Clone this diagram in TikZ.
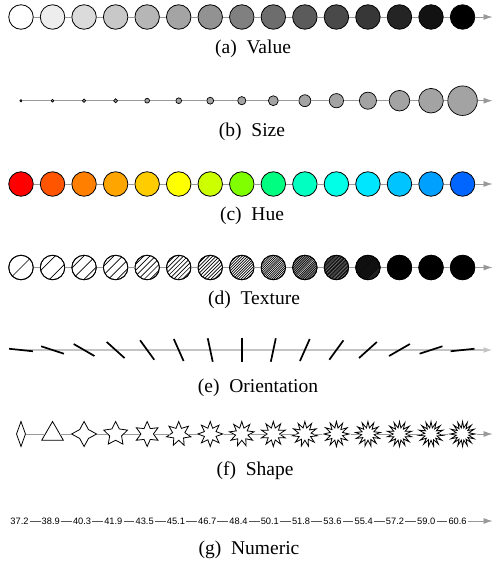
\documentclass[tikz,border=0pt]{standalone}
\usepackage{fontspec}
\setmainfont{Liberation Serif}
\newfontfamily\numfont{Liberation Sans}
\usetikzlibrary{arrows.meta,shapes.geometric}
\definecolor{linegray}{HTML}{999999}
\definecolor{orgray}{HTML}{C4C4C4}
\definecolor{numgray}{HTML}{555555}
\definecolor{sizegray}{HTML}{A3A3A3}
\definecolor{hue0}{HTML}{FF0000}
\definecolor{hue1}{HTML}{FF5500}
\definecolor{hue2}{HTML}{FF8000}
\definecolor{hue3}{HTML}{FFA500}
\definecolor{hue4}{HTML}{FFCC00}
\definecolor{hue5}{HTML}{FFFF00}
\definecolor{hue6}{HTML}{CCFF00}
\definecolor{hue7}{HTML}{80FF00}
\definecolor{hue8}{HTML}{00FF80}
\definecolor{hue9}{HTML}{00FFC0}
\definecolor{hue10}{HTML}{00FFE6}
\definecolor{hue11}{HTML}{00E6FF}
\definecolor{hue12}{HTML}{00C4FF}
\definecolor{hue13}{HTML}{00A0FF}
\definecolor{hue14}{HTML}{0066FF}
\begin{document}
\begin{tikzpicture}[x=1pt,y=-1pt,
  conn/.style={draw=linegray, line width=0.8pt},
  tipped/.style={-{Latex[length=9pt,width=6pt]}},
  ball/.style={circle, draw=black, line width=0.8pt, minimum size=24.5pt, inner sep=0pt},
  caption/.style={anchor=base, font=\fontsize{19.5}{21}\selectfont, inner sep=0pt},
  seg/.style={draw=black, line width=1.7pt},
  orline/.style={draw=orgray, line width=1.5pt},
  numlabel/.style={font=\numfont\fontsize{9.3}{10}\selectfont, inner sep=1pt},
  numline/.style={draw=numgray, line width=0.6pt},
  hatch/.style={draw=black, line width=0.7pt}]
\useasboundingbox (0,0) rectangle (494,565);

% (a) Value
\foreach \i in {0,...,14} {
  \pgfmathsetmacro\p{100*\i/14}
  \node[ball, fill=black!\p] (a\i) at ({21+31.54*\i},17) {};
}
\coordinate (aend) at (492.5,17);
\foreach \i [evaluate=\i as \j using int(\i+1)] in {0,...,13} \draw[conn] (a\i) -- (a\j);
\draw[conn, tipped] (a14) -- (aend);
\node[caption] (capa) at (253,53) {(a)\enspace Value};

% (b) Size
\foreach \i in {0,...,14} {
  \pgfmathsetmacro\d{2.3*1.2^\i}
  \node[circle, draw=black, line width=0.7pt, fill=sizegray, minimum size=\d pt, inner sep=0pt] (b\i) at ({21+31.54*\i},100.7) {};
}
\coordinate (bend) at (492.5,100.7);
\foreach \i [evaluate=\i as \j using int(\i+1)] in {0,...,13} \draw[conn] (b\i) -- (b\j);
\draw[conn, tipped] (b14) -- (bend);
\node[caption] (capb) at (252,136) {(b)\enspace Size};

% (c) Hue
\foreach \i in {0,...,14} {
  \node[ball, fill=hue\i] (c\i) at ({21+31.54*\i},184) {};
}
\coordinate (cend) at (492.5,184);
\foreach \i [evaluate=\i as \j using int(\i+1)] in {0,...,13} \draw[conn] (c\i) -- (c\j);
\draw[conn, tipped] (c14) -- (cend);
\node[caption] (capc) at (252,220) {(c)\enspace Hue};

% (d) Texture
\foreach \i/\n in {0/1,1/2,2/3,3/4,4/6,5/8,6/10,7/13,8/16,9/20,10/26,11/36,12/0,13/0,14/0} {
  \node[ball, fill=white] (d\i) at ({21+31.54*\i},267.5) {};
  \ifnum\n>0
    \begin{scope}[shift={(d\i.center)}]
      \clip (0,0) circle (12.25);
      \foreach \k in {1,...,\n} {
        \pgfmathsetmacro\o{(-12.5+(\k-0.5)*25/\n)*0.7071}
        \draw[hatch] ({\o+9.3},{\o-9.3}) -- ({\o-9.3},{\o+9.3});
      }
    \end{scope}
  \else
    \fill[black] (d\i.center) circle (12.25);
  \fi
  \node[ball] at (d\i.center) {};
}
\coordinate (dend) at (492.5,267.5);
\foreach \i [evaluate=\i as \j using int(\i+1)] in {0,...,13} \draw[conn] (d\i) -- (d\j);
\draw[conn, tipped] (d14) -- (dend);
\node[caption] (capd) at (254,304) {(d)\enspace Texture};

% (e) Orientation
\foreach \i in {0,...,14} {
  \coordinate (e\i) at ({21+31.54*\i},350);
}
\coordinate (eend) at (492.5,350);
\draw[orline, tipped] (e0) -- (eend);
\foreach \i in {0,...,14} {
  \pgfmathsetmacro\ang{(\i+0.5)*12}
  \draw[seg] (e\i) ++(\ang:-12) -- ++(\ang:24);
}
\node[caption] (cape) at (258,392) {(e)\enspace Orientation};

% (f) Shape
\foreach \i in {0,...,14} {
  \pgfmathtruncatemacro\p{\i+2}
  \pgfmathsetmacro\r{\i==0 ? 2.8 : 2}
  \node[star, star points=\p, star point ratio=\r, draw=black, fill=white, line width=0.8pt, minimum size=25pt, inner sep=0pt] (f\i) at ({21+31.54*\i},434) {};
}
\coordinate (fend) at (492.5,434);
\foreach \i [evaluate=\i as \j using int(\i+1)] in {0,...,13} \draw[conn] (f\i) -- (f\j);
\draw[conn, tipped] (f14) -- (fend);
\node[caption] (capf) at (255,475) {(f)\enspace Shape};

% (g) Numeric
\foreach \i/\t in {0/37.2,1/38.9,2/40.3,3/41.9,4/43.5,5/45.1,6/46.7,7/48.4,8/50.1,9/51.8,10/53.6,11/55.4,12/57.2,13/59.0,14/60.6} {
  \node[numlabel] (g\i) at ({19.5+31.29*\i},521) {\t};
}
\coordinate (gend) at (492.5,521);
\foreach \i [evaluate=\i as \j using int(\i+1)] in {0,...,13} \draw[numline] (g\i) -- (g\j);
\draw[conn, tipped] (g14) -- (gend);
\node[caption] (capg) at (249,554) {(g)\enspace Numeric};
\end{tikzpicture}
\end{document}
